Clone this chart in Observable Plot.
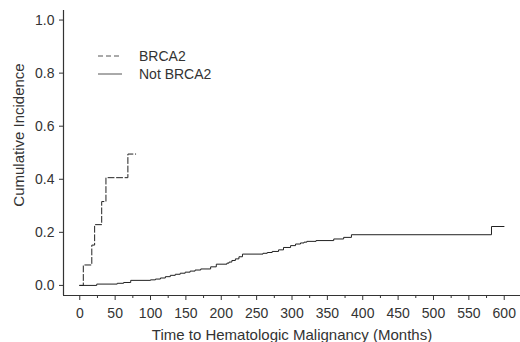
<!DOCTYPE html>
<html><head><meta charset="utf-8">
<script src="https://cdn.jsdelivr.net/npm/d3@7"></script>
<script src="https://cdn.jsdelivr.net/npm/@observablehq/plot@0.6"></script>
<style>
body{margin:0;background:#fff;font-family:"Liberation Sans",Arial,sans-serif}
#wrap{position:relative;width:520px;height:342px}
svg{display:block}
#legend{position:absolute;left:0;top:0;pointer-events:none}
</style>
</head><body><div id="wrap"></div>
<script>
// Series names
const seriesNames = ["BRCA2", "Not BRCA2"];

// BRCA2 cumulative incidence (step function)
const brca2Time = [0, 5, 17, 21, 31, 37, 68, 79];
const brca2Inc  = [0, 0.077, 0.152, 0.229, 0.316, 0.406, 0.495, 0.495];

// Not BRCA2 cumulative incidence (step function)
const notTime = [0, 24, 53, 62, 72, 100, 107, 114, 121, 128, 135, 142, 149, 156, 163, 171, 185, 193, 208, 211, 215, 220, 225, 230, 259, 265, 272, 281, 288, 298, 305, 312, 317, 321, 334, 359, 373, 384, 582, 600];
const notInc  = [0, 0.005, 0.008, 0.011, 0.019, 0.021, 0.024, 0.028, 0.033, 0.038, 0.042, 0.046, 0.050, 0.054, 0.058, 0.062, 0.070, 0.080, 0.084, 0.088, 0.094, 0.100, 0.108, 0.118, 0.121, 0.124, 0.128, 0.134, 0.143, 0.150, 0.156, 0.160, 0.163, 0.166, 0.169, 0.175, 0.181, 0.191, 0.222, 0.222];

// Tick labels
const xTicks = [0, 50, 100, 150, 200, 250, 300, 350, 400, 450, 500, 550, 600];
const xMinorTicks = [25, 75, 125, 175, 225, 275, 325, 375, 425, 475, 525, 575];
const yTicks = [0, 0.2, 0.4, 0.6, 0.8, 1.0];

const xLabel = "Time to Hematologic Malignancy (Months)";
const yLabel = "Cumulative Incidence";

const brca2 = brca2Time.map((t, i) => ({t, v: brca2Inc[i]}));
const notBrca2 = notTime.map((t, i) => ({t, v: notInc[i]}));

const xDomain = [-23, 623];
const yDomain = [-0.038, 1.036];
const ink = "#333";

const chart = Plot.plot({
  width: 520,
  height: 342,
  marginLeft: 63,
  marginRight: 0,
  marginTop: 10,
  marginBottom: 47,
  style: {fontFamily: "'Liberation Sans', Arial, sans-serif", fontSize: "14px", color: ink, background: "#fff"},
  x: {domain: xDomain},
  y: {domain: yDomain},
  marks: [
    Plot.axisX({ticks: xTicks, tickSize: 5, tickPadding: 8, label: null, stroke: ink, fill: ink, fontSize: 14}),
    Plot.axisX({ticks: xMinorTicks, tickSize: 3, label: null, stroke: ink, fill: "none"}),
    Plot.axisY({ticks: yTicks, tickSize: 4, tickPadding: 5, tickFormat: d3.format(".1f"), label: null, stroke: ink, fill: ink, fontSize: 14}),
    Plot.ruleX([xDomain[0]], {stroke: ink, strokeWidth: 1.2}),
    Plot.ruleY([yDomain[0]], {stroke: ink, strokeWidth: 1.2}),
    Plot.line(notBrca2, {x: "t", y: "v", curve: "step-after", stroke: "#222", strokeWidth: 1}),
    Plot.line(brca2, {x: "t", y: "v", curve: "step-after", stroke: "#222", strokeWidth: 1, strokeDasharray: "6,2.5"}),
    Plot.text([xLabel], {frameAnchor: "bottom", dy: 44, dx: 0, text: d => d, fontSize: 15, fill: ink}),
    Plot.text([yLabel], {frameAnchor: "left", textAnchor: "middle", dx: -44, dy: -18, rotate: -90, text: d => d, fontSize: 15, fill: ink})
  ]
});
document.getElementById("wrap").appendChild(chart);

// Legend overlay
const legend = d3.select("#wrap").append("svg")
  .attr("id", "legend").attr("width", 520).attr("height", 342);
const legendRows = seriesNames.map((name, i) => ({name, dash: i === 0 ? "5,3" : null, y: 56 + i * 18}));
legendRows.forEach(r => {
  legend.append("line").attr("x1", 98).attr("x2", 122).attr("y1", r.y).attr("y2", r.y)
    .attr("stroke", "#555").attr("stroke-width", 1).attr("stroke-dasharray", r.dash);
  legend.append("text").attr("x", 139).attr("y", r.y).attr("dy", "0.35em")
    .attr("font-family", "'Liberation Sans', Arial, sans-serif").attr("font-size", 14)
    .attr("fill", ink).text(r.name);
});
</script>
</body></html>
